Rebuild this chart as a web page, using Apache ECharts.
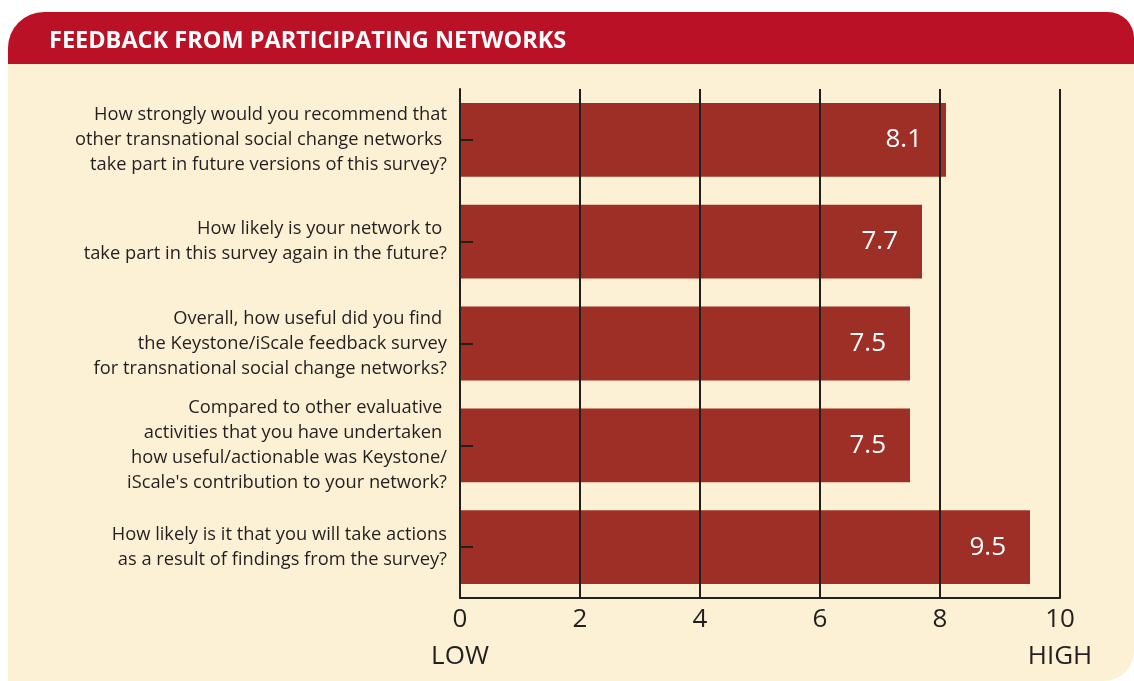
<!DOCTYPE html>
<html>
<head>
<meta charset="utf-8">
<script src="https://cdn.jsdelivr.net/npm/echarts@6/dist/echarts.min.js"></script>
<style>
  html, body { margin:0; padding:0; background:#fff; }
  #chart { width:1134px; height:681px; }
</style>
</head>
<body>
<div id="chart"></div>
<script>
const TITLE = "FEEDBACK FROM PARTICIPATING NETWORKS";

const questions = [
  "How strongly would you recommend that\nother transnational social change networks \ntake part in future versions of this survey?",
  "How likely is your network to \ntake part in this survey again in the future?",
  "Overall, how useful did you find \nthe Keystone/iScale feedback survey\nfor transnational social change networks?",
  "Compared to other evaluative \nactivities that you have undertaken \nhow useful/actionable was Keystone/\niScale's contribution to your network?",
  "How likely is it that you will take actions\nas a result of findings from the survey?"
];
const scores = [8.1, 7.7, 7.5, 7.5, 9.5];

const scaleMin = 0, scaleMax = 10, scaleStep = 2;
const scaleEnds = { 0: "LOW", 10: "HIGH" };

const RED = "#ba1126", CREAM = "#fdf1d5", BAR = "#9e2f27", INK = "#231f20";
const FONT = "'Open Sans', 'DejaVu Sans', sans-serif";

const chart = echarts.init(document.getElementById("chart"));

chart.setOption({
  animation: false,
  textStyle: { fontFamily: FONT },
  graphic: [
    { type: "rect", z: -10, shape: { x: 8, y: 12, width: 1126, height: 669, r: [36, 26, 30, 0] },
      style: { fill: CREAM } },
    { type: "rect", z: -9, shape: { x: 8, y: 12, width: 1126, height: 52, r: [36, 26, 0, 0] },
      style: { fill: RED } },
    { type: "text", z: -8, x: 49, y: 41,
      style: { text: TITLE, fill: "#fff", font: "bold 23.5px " + FONT, textVerticalAlign: "middle" } }
  ],
  grid: { left: 460, right: 74, top: 89, bottom: 83 },
  xAxis: {
    type: "value",
    min: scaleMin, max: scaleMax, interval: scaleStep,
    z: 5,
    axisLine: { show: true, lineStyle: { color: INK, width: 2 } },
    axisTick: { show: false },
    splitLine: { show: true, lineStyle: { color: INK, width: 2 } },
    axisLabel: {
      margin: 4,
      formatter: v => scaleEnds[v] != null ? `{n|${v}}\n{w|${scaleEnds[v]}}` : `{n|${v}}`,
      rich: {
        n: { fontSize: 26, color: INK, lineHeight: 36, fontFamily: FONT },
        w: { fontSize: 26, color: INK, lineHeight: 38, fontFamily: FONT }
      }
    }
  },
  yAxis: {
    type: "category",
    inverse: true,
    data: questions,
    z: 5,
    axisLine: { show: true, lineStyle: { color: INK, width: 2 } },
    axisTick: { show: true, inside: true, length: 13, alignWithLabel: true, lineStyle: { color: INK, width: 2 } },
    axisLabel: { margin: 13, color: INK, fontSize: 18.3, lineHeight: 25, align: "right" }
  },
  series: [{
    type: "bar",
    data: scores,
    barCategoryGap: "27.5%",
    itemStyle: { color: BAR },
    label: {
      show: true,
      position: "insideRight",
      distance: 24,
      color: "#fff",
      fontSize: 26,
      formatter: p => p.value.toFixed(1)
    }
  }]
});
</script>
</body>
</html>
